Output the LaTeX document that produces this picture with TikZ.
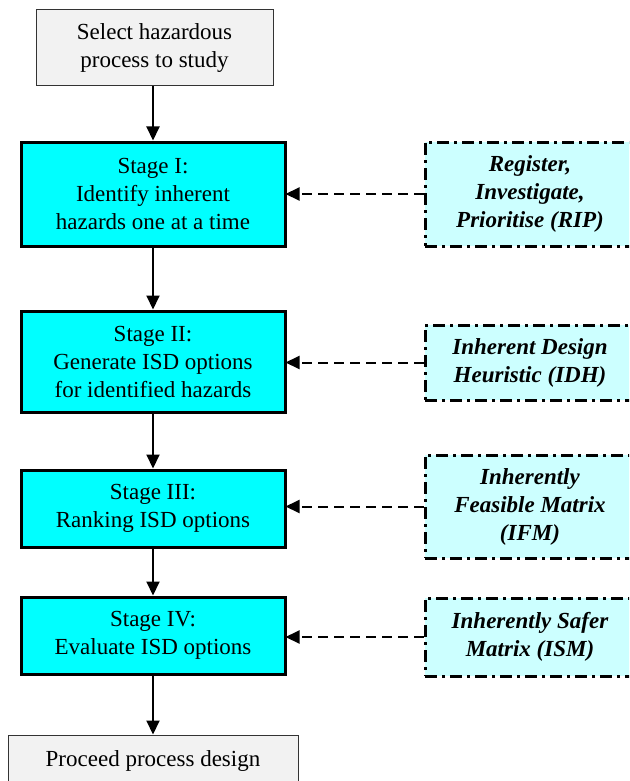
\documentclass[tikz,border=0pt]{standalone}
\usepackage{fontspec}
\setmainfont{Liberation Serif}
\usetikzlibrary{arrows.meta}
\definecolor{stagecyan}{HTML}{00FFFF}
\definecolor{toolcyan}{HTML}{CCFFFF}
\definecolor{endgray}{HTML}{F2F2F2}
\tikzset{
  boxfont/.style={font=\fontsize{23}{28}\selectfont},
  endbox/.style={draw=black!80, line width=1pt, fill=endgray, align=center,
    inner sep=0pt, boxfont},
  stagebox/.style={draw=black, line width=3pt, fill=stagecyan, align=center,
    inner sep=0pt, boxfont},
  toolbox/.style={draw=black, line width=3pt, fill=toolcyan, align=center,
    inner sep=0pt, dash pattern=on 12pt off 5pt on 3pt off 5pt,
    font=\fontsize{23}{28}\selectfont\bfseries\itshape},
  flow/.style={line width=2pt, -{Triangle[length=14pt,width=13pt]}},
  feed/.style={line width=2pt, dash pattern=on 10pt off 6pt,
    -{Triangle[length=14pt,width=13pt]}, shorten >=-1pt}
}
\begin{document}
\begin{tikzpicture}[x=1pt,y=-1pt]
\useasboundingbox (0,0) rectangle (629,781);
\clip (0,0) rectangle (629,781);

% main sequence of steps
\node[endbox, minimum width=237pt, minimum height=76pt] (top) at (154.5,48)
  {Select hazardous\\process to study};
\node[stagebox, minimum width=264pt, minimum height=104pt] (s1) at (153,194)
  {Stage I:\\Identify inherent\\hazards one at a time};
\node[stagebox, minimum width=264pt, minimum height=101pt] (s2) at (153,361.5)
  {Stage II:\\Generate ISD options\\for identified hazards};
\node[stagebox, minimum width=264pt, minimum height=77pt] (s3) at (153,508.5)
  {Stage III:\\Ranking ISD options};
\node[stagebox, minimum width=264pt, minimum height=77pt] (s4) at (153,635.5)
  {Stage IV:\\Evaluate ISD options};
\node[endbox, minimum width=290pt, minimum height=52pt] (fin) at (153,761)
  {Proceed process design};

% supporting tools
\node[toolbox, minimum width=210pt, minimum height=104pt] (rip) at (530,194)
  {Register,\\Investigate,\\Prioritise (RIP)};
\node[toolbox, minimum width=210pt, minimum height=75pt] (idh) at (530,362.5)
  {Inherent Design\\Heuristic (IDH)};
\node[toolbox, minimum width=210pt, minimum height=103pt] (ifm) at (530,506.5)
  {Inherently\\Feasible Matrix\\(IFM)};
\node[toolbox, minimum width=210pt, minimum height=78pt] (ism) at (530,637)
  {Inherently Safer\\Matrix (ISM)};

% flow arrows
\draw[flow] (top.south -| s1.north) -- (s1.north);
\draw[flow] (s1) -- (s2);
\draw[flow] (s2) -- (s3);
\draw[flow] (s3) -- (s4);
\draw[flow] (s4) -- (fin);

% tool feeds
\draw[feed] (rip.west) -- (rip.west -| s1.east);
\draw[feed] (idh.west) -- (idh.west -| s2.east);
\draw[feed] (ifm.west) -- (ifm.west -| s3.east);
\draw[feed] (ism.west) -- (ism.west -| s4.east);
\end{tikzpicture}
\end{document}
